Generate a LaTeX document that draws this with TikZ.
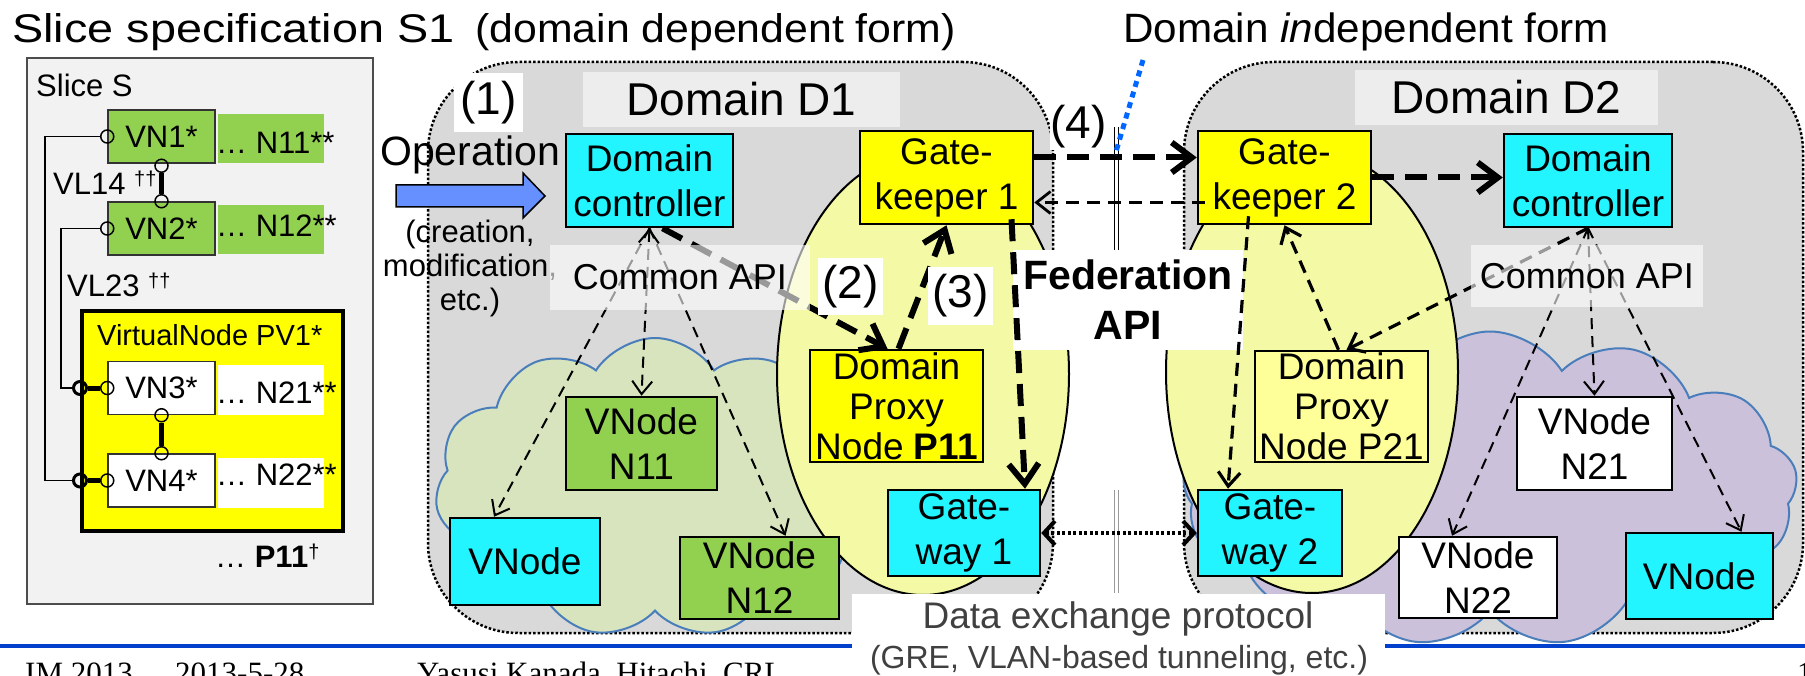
\documentclass[tikz,border=0pt]{standalone}
\usepackage{fontspec}
\setmainfont{Liberation Sans}
\newfontfamily\footfont{Liberation Serif}
\usetikzlibrary{arrows.meta,shapes.symbols,shapes.geometric}

\definecolor{slicegray}{RGB}{242,242,242}
\definecolor{domgray}{RGB}{217,217,217}
\definecolor{labgray}{RGB}{237,237,237}
\definecolor{vgreen}{RGB}{146,208,80}
\definecolor{vcyan}{RGB}{34,245,255}
\definecolor{vyellow}{RGB}{255,255,0}
\definecolor{paleyellow}{RGB}{255,255,153}
\definecolor{ellyellow}{RGB}{244,249,165}
\definecolor{cloudgreen}{RGB}{215,228,189}
\definecolor{cloudpurple}{RGB}{204,193,218}
\definecolor{cloudline}{RGB}{74,126,187}
\definecolor{opblue}{RGB}{102,143,255}
\definecolor{ptrblue}{RGB}{0,102,255}
\definecolor{footblue}{RGB}{0,64,204}
\definecolor{protogray}{RGB}{64,64,64}

\newcommand\setfs[2]{\fontsize{#1}{#2}\selectfont}

\tikzset{
  nodebox/.style={draw=black, line width=2.5pt, inner sep=0pt, align=center, font=\setfs{37}{45}},
  vnbox/.style={draw=black!80, line width=1.5pt, inner sep=0pt, minimum width=107pt, minimum height=53pt, font=\setfs{31}{36}},
  labrect/.style={inner sep=0pt, minimum width=106pt},
  slicetext/.style={anchor=base west, inner sep=0pt, font=\setfs{31}{36}},
  portc/.style={circle, draw=black, line width=1.5pt, inner sep=0pt, minimum size=13pt},
  domregion/.style={fill=domgray, draw=black, line width=2.5pt, dash pattern=on 2.5pt off 2pt, rounded corners=90pt, inner sep=0pt},
  puffy/.style={cloud, cloud ignores aspect, draw=cloudline, line width=2pt, inner sep=0pt},
  zone/.style={ellipse, fill=ellyellow, draw=black, line width=2pt, inner sep=0pt, minimum width=292pt, minimum height=442pt},
  numlab/.style={fill=white, inner sep=0pt, font=\setfs{46}{50}},
  apibox/.style={fill=white, fill opacity=0.6, text opacity=1, inner sep=0pt, font=\setfs{36}{40}},
  bigarrow/.style={line width=6pt, dash pattern=on 22pt off 11pt, -{Straight Barb[length=20pt,width=30pt]}},
  midarrow/.style={line width=3.2pt, dash pattern=on 13pt off 8pt, -{Straight Barb[length=14pt,width=22pt]}},
  thinarrow/.style={line width=2pt, dash pattern=on 11pt off 7pt, -{Straight Barb[length=13pt,width=20pt]}},
  dotarrow/.style={line width=4pt, dash pattern=on 3pt off 2.5pt, {Straight Barb[length=11pt,width=24pt]}-{Straight Barb[length=11pt,width=24pt]}}
}

\begin{document}
\begin{tikzpicture}[x=1pt,y=-1pt]
\useasboundingbox[fill=white] (0,0) rectangle (1805,676);

% ---------- headings ----------
\node[anchor=base west, inner sep=0pt, font=\setfs{40}{44}, xscale=1.17] (title) at (12,43) {Slice specification S1};
\node[anchor=base west, inner sep=0pt, font=\setfs{40}{44}, xscale=1.07] (titleform) at (475,43) {(domain dependent form)};
\node[anchor=base west, inner sep=0pt, font=\setfs{41}{46}, xscale=1.03] (indep) at (1123,43) {Domain \textit{in}dependent form};

% ---------- slice specification ----------
\node[draw=black!70, line width=1.5pt, fill=slicegray, minimum width=346pt, minimum height=546pt, inner sep=0pt] (slice) at (200,331) {};
\node[slicetext] (slicename) at (36,97) {Slice S};

\node[labrect, fill=vgreen, minimum height=49pt] (n11bg) at (271,138.5) {};
\node[labrect, fill=vgreen, minimum height=49pt] (n12bg) at (271,229.5) {};
\node[draw=black, line width=4pt, fill=vyellow, minimum width=261pt, minimum height=220pt, inner sep=0pt] (pv1) at (212.5,421) {};
\node[labrect, fill=white, minimum height=50pt] (n21bg) at (271,390) {};
\node[labrect, fill=white, minimum height=50pt] (n22bg) at (271,483) {};

\node[vnbox, fill=vgreen] (vn1) at (161.5,136.5) {VN1*};
\node[vnbox, fill=vgreen] (vn2) at (161.5,228.5) {VN2*};
\node[vnbox, fill=white] (vn3) at (161.5,388) {VN3*};
\node[vnbox, fill=white] (vn4) at (161.5,480.5) {VN4*};

\node[slicetext] (n11t) at (216,154) {… N11**};
\node[slicetext] (n12t) at (216,237) {… N12**};
\node[slicetext] (n21t) at (216,403) {… N21**};
\node[slicetext] (n22t) at (216,485) {… N22**};
\node[slicetext] (vl14) at (53,195) {VL14 \raisebox{9pt}{\setfs{20}{22}††}};
\node[slicetext] (vl23) at (67,297) {VL23 \raisebox{9pt}{\setfs{20}{22}††}};
\node[anchor=base west, inner sep=0pt, font=\setfs{29}{34}] (pv1name) at (97,345) {VirtualNode PV1*};
\node[slicetext] (p11ref) at (215,567) {… \textbf{P11}\raisebox{9pt}{\setfs{20}{22}†}};

% ports and virtual links
\node[portc] (vn1p) at (vn1.west) {};
\node[portc] (vn2p) at (vn2.west) {};
\node[portc] (vn3p) at (vn3.west) {};
\node[portc] (vn4p) at (vn4.west) {};
\node[portc, line width=3pt] (pvp3) at (pv1.west |- vn3) {};
\node[portc, line width=3pt] (pvp4) at (pv1.west |- vn4) {};
\node[portc] (vn1b) at ([yshift=-2pt]vn1.south) {};
\node[portc] (vn2t) at (vn2.north) {};
\node[portc] (vn3b) at (vn3.south) {};
\node[portc] (vn4t) at (vn4.north) {};
\draw[line width=5pt] (vn1b) -- (vn2t);
\draw[line width=5pt] (vn3b) -- (vn4t);
\draw[line width=5pt] (pvp3) -- (vn3p);
\draw[line width=5pt] (pvp4) -- (vn4p);
\draw[line width=1.5pt] (vn1p.west) -- ++(-55,0) |- (pvp4.west);
\draw[line width=1.5pt] (vn2p.west) -- ++(-39,0) |- (pvp3.west);

% ---------- domains ----------
\node[domregion, minimum width=625pt, minimum height=571pt] (dom1) at (740.5,347.5) {};
\node[domregion, minimum width=619pt, minimum height=571pt] (dom2) at (1493.5,347.5) {};

\node[puffy, cloud puffs=11, cloud puff arc=115, fill=cloudgreen, minimum width=440pt, minimum height=300pt] (cloud1) at (655,488) {};
\node[puffy, cloud puffs=13, cloud puff arc=115, fill=cloudpurple, minimum width=615pt, minimum height=315pt] (cloud2) at (1490,489) {};

\node[zone] (zone1) at (923,374) {};
\node[zone] (zone2) at (1312,372) {};

\node[fill=labgray, minimum width=317pt, minimum height=55pt, inner sep=0pt, font=\setfs{46}{50}] (d1lab) at (741.5,99.5) {Domain D1};
\node[fill=labgray, minimum width=303pt, minimum height=55pt, inner sep=0pt, font=\setfs{46}{50}] (d2lab) at (1506.5,97.5) {Domain D2};

% operation request
\node[anchor=base west, inner sep=0pt, font=\setfs{41}{45}] (op) at (380,166) {Operation};
\draw[fill=opblue, line width=1.5pt] (396,185) -- (523,185) -- (523,173) -- (545,196) -- (523,218) -- (523,207) -- (396,207) -- cycle;
\node[align=center, inner sep=0pt, font=\setfs{31}{34}] (opnote) at (470,268) {(creation,\\modification,\\etc.)};
\node[numlab, minimum width=69pt, minimum height=59pt] (lab1) at (488.5,102.5) {(1)};

% domain D1 nodes
\node[nodebox, fill=vcyan, minimum width=167pt, minimum height=93pt] (ctrl1) at (649.5,180.5) {Domain\\controller};
\node[nodebox, fill=vcyan, minimum width=150pt, minimum height=87pt] (vnc1) at (525,561.5) {VNode};
\node[nodebox, fill=vgreen, minimum width=151pt, minimum height=93pt] (n11) at (641.5,443.5) {VNode\\N11};
\node[nodebox, fill=vgreen, minimum width=159pt, minimum height=82pt] (n12) at (759.5,578) {VNode\\N12};
\node[nodebox, fill=vyellow, minimum width=173pt, minimum height=93pt] (gk1) at (946.5,177.5) {Gate-\\keeper 1};
\node[nodebox, fill=vyellow, minimum width=173pt, minimum height=112pt, font=\setfs{37}{40}] (p11) at (896.5,406) {Domain\\Proxy\\Node \textbf{P11}};
\node[nodebox, fill=vcyan, minimum width=152pt, minimum height=86pt] (gw1) at (964,533) {Gate-\\way 1};

% domain D2 nodes
\node[nodebox, fill=vyellow, minimum width=173pt, minimum height=93pt] (gk2) at (1284.5,177.5) {Gate-\\keeper 2};
\node[nodebox, fill=vcyan, minimum width=168pt, minimum height=93pt] (ctrl2) at (1588,180.5) {Domain\\controller};
\node[nodebox, fill=paleyellow, minimum width=173pt, minimum height=111pt, font=\setfs{37}{40}] (p21) at (1341.5,406.5) {Domain\\Proxy\\Node P21};
\node[nodebox, fill=vcyan, minimum width=144pt, minimum height=86pt] (gw2) at (1270,533) {Gate-\\way 2};
\node[nodebox, fill=white, minimum width=155pt, minimum height=93pt] (n21) at (1594.5,443.5) {VNode\\N21};
\node[nodebox, fill=white, minimum width=158pt, minimum height=81pt] (n22) at (1478,577.5) {VNode\\N22};
\node[nodebox, fill=vcyan, minimum width=147pt, minimum height=86pt] (vnc2) at (1699.5,576) {VNode};

% common API calls (behind the translucent labels)
\draw[thinarrow] (ctrl1.south) -- ([xshift=-31pt]vnc1.north);
\draw[thinarrow, {Straight Barb[length=13pt,width=20pt]}-{Straight Barb[length=13pt,width=20pt]}] (ctrl1.south) -- (n11.north);
\draw[thinarrow] (ctrl1.south) -- ([xshift=26pt]n12.north);
\draw[bigarrow] ([xshift=13pt]ctrl1.south) -- ([xshift=-9pt]p11.north);
\draw[thinarrow] (ctrl2.south) -- ([xshift=-26pt]n22.north);
\draw[thinarrow] (ctrl2.south) -- (n21.north);
\draw[thinarrow] (ctrl2.south) -- ([xshift=42pt]vnc2.north);
\draw[midarrow] (ctrl2.south) -- ([xshift=5pt]p21.north);

\node[apibox, minimum width=260pt, minimum height=65pt] (api1) at (680,277.5) {Common API};
\node[apibox, minimum width=232pt, minimum height=62pt] (api2) at (1587,276) {Common API};

% federation boundary
\draw[double distance=3pt, line width=1.2pt] (1116.5,127) -- (1116.5,252);
\draw[double distance=3pt, line width=1.2pt, black!40] (1116.5,490) -- (1116.5,593);
\node[fill=white, minimum width=230pt, minimum height=100pt, inner sep=0pt, align=center, font=\setfs{41}{50}\bfseries] (fed) at (1128,300) {Federation\\API};

% federation and data-plane interactions
\draw[bigarrow] ([xshift=2pt]p11.north) -- (gk1.south);
\draw[bigarrow] ([xshift=65pt,yshift=6pt]gk1.south) -- ([xshift=61pt]gw1.north);
\draw[bigarrow] ([yshift=20pt]gk1.east) -- ([yshift=20pt]gk2.west);
\draw[bigarrow] (gk2.east) -- ([yshift=3pt]ctrl2.west);
\draw[midarrow, line width=2.8pt] ([xshift=8pt,yshift=-25pt]gk2.west) -- ([yshift=-25pt]gk1.east);
\draw[midarrow] ([xshift=-3pt]p21.north) -- (gk2.south);
\draw[midarrow] ([xshift=-36pt,yshift=9pt]gk2.south) -- ([xshift=-42pt]gw2.north);
\draw[dotarrow] (gw1.east) -- (gw2.west);

\node[numlab, minimum width=65pt, minimum height=57pt] (lab2) at (850.5,286.5) {(2)};
\node[numlab, minimum width=65pt, minimum height=58pt] (lab3) at (960.5,296) {(3)};
\node[numlab, minimum width=57pt, minimum height=47pt] (lab4) at (1078.5,126.5) {(4)};

\coordinate (ptrtop) at (1143,60);
\draw[ptrblue, line width=5pt, dash pattern=on 6pt off 5pt] (ptrtop) -- (1115,155);

% footer
\draw[footblue, line width=4pt] (0,646) -- (1805,646);
\node[fill=white, minimum width=533pt, minimum height=90pt, inner sep=0pt] (dxbox) at (1118.5,639) {};
\node[anchor=base, inner sep=0pt, font=\setfs{37}{40}, text=protogray] (dxt) at (1118,628) {Data exchange protocol};
\node[anchor=base, inner sep=0pt, font=\setfs{32}{36}, text=protogray] (dxt2) at (1119,668) {(GRE, VLAN-based tunneling, etc.)};

\node[anchor=base west, inner sep=0pt, font=\footfont\setfs{31}{34}] (conf) at (25,683) {IM 2013};
\node[anchor=base west, inner sep=0pt, font=\footfont\setfs{31}{34}] (date) at (175,683) {2013-5-28};
\node[anchor=base west, inner sep=0pt, font=\footfont\setfs{31}{34}] (author) at (417,683) {Yasusi Kanada, Hitachi, CRL};
\node[anchor=base west, inner sep=0pt, font=\footfont\setfs{31}{34}] (page) at (1797,683) {1};
\end{tikzpicture}
\end{document}
